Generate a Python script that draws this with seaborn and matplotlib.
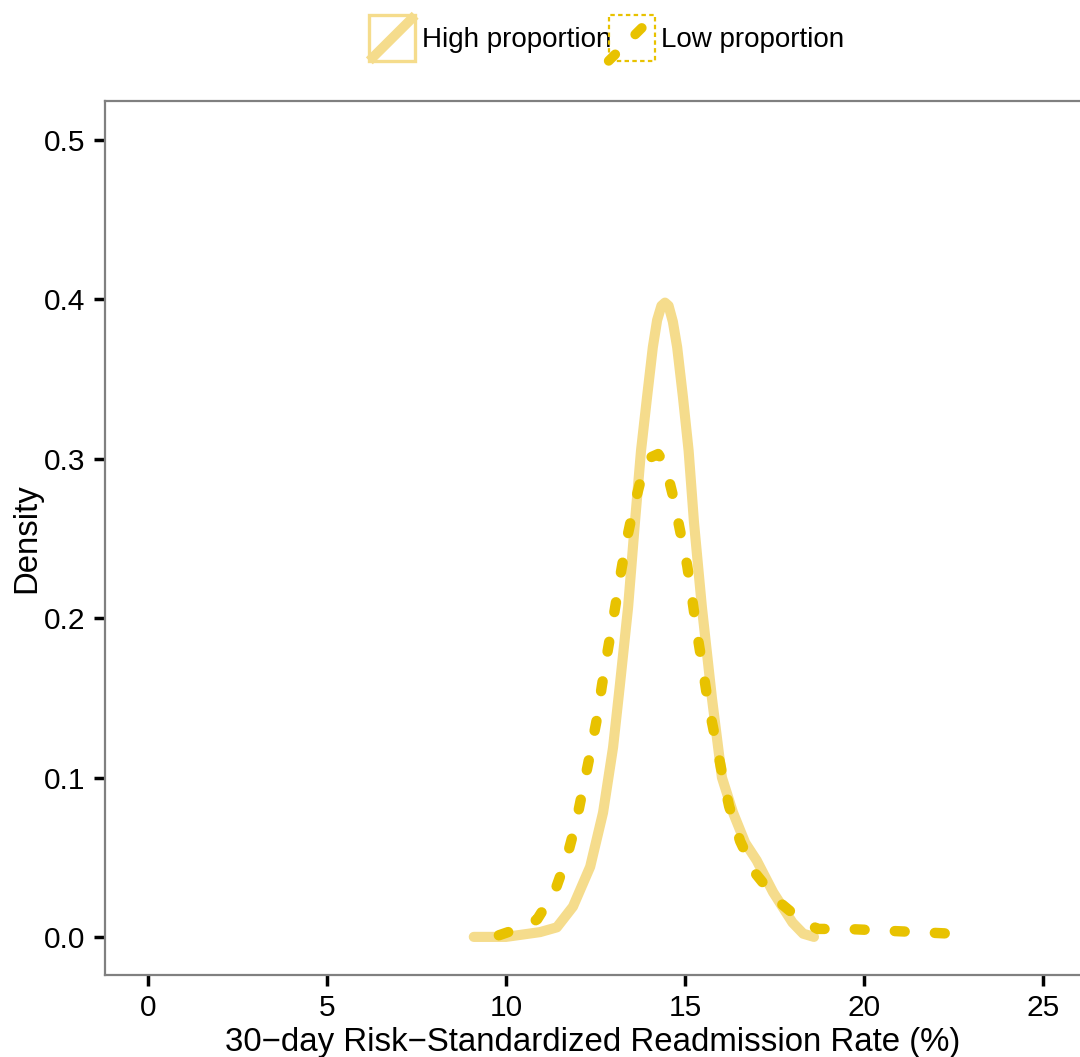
import numpy as np
import pandas as pd
import matplotlib
matplotlib.use('Agg')
import matplotlib.pyplot as plt
import seaborn as sns
from matplotlib.legend_handler import HandlerBase
from matplotlib.patches import Rectangle
from matplotlib.lines import Line2D

# Кривые плотности
high_x = [9.1, 10.0, 10.95, 11.42, 11.87, 12.35, 12.71, 12.99, 13.18, 13.41, 13.6, 13.77,
          13.94, 14.1, 14.22, 14.34, 14.44, 14.54, 14.66, 14.78, 14.94, 15.1, 15.25, 15.47,
          15.75, 16.03, 16.34, 16.68, 17.0, 17.46, 18.0, 18.3, 18.6]
high_y = [0.0, 0.0, 0.003, 0.006, 0.019, 0.044, 0.078, 0.119, 0.158, 0.207, 0.26, 0.305,
          0.339, 0.37, 0.387, 0.396, 0.398, 0.396, 0.386, 0.37, 0.339, 0.305, 0.26, 0.207,
          0.15, 0.10, 0.078, 0.059, 0.048, 0.028, 0.009, 0.002, 0.0]

low_x = [9.8, 10.06, 10.5, 10.87, 11.37, 11.7, 11.96, 12.15, 12.35, 12.54, 12.68, 12.85,
         13.02, 13.18, 13.35, 13.55, 13.8, 14.05, 14.25, 14.45, 14.66, 14.86, 15.06, 15.2,
         15.34, 15.5, 15.64, 15.84, 16.03, 16.23, 16.54, 16.96, 17.57, 18.21, 18.7, 19.5,
         20.5, 21.5, 22.45]
low_y = [0.001, 0.003, 0.006, 0.011, 0.029, 0.05, 0.072, 0.093, 0.115, 0.137, 0.158, 0.181,
         0.203, 0.225, 0.247, 0.268, 0.29, 0.301, 0.303, 0.296, 0.277, 0.255, 0.233, 0.212,
         0.19, 0.168, 0.147, 0.125, 0.103, 0.082, 0.06, 0.04, 0.023, 0.011, 0.005, 0.005,
         0.004, 0.003, 0.002]

groups = ['High proportion', 'Low proportion']
colors = {'High proportion': '#F5DC8C', 'Low proportion': '#E8C200'}

df_high = pd.DataFrame({'rate': high_x, 'density': high_y, 'group': groups[0]})
df_low = pd.DataFrame({'rate': low_x, 'density': low_y, 'group': groups[1]})

sns.set_style('white')
plt.rcParams['font.family'] = ['Liberation Sans', 'DejaVu Sans']
plt.rcParams['text.color'] = 'black'
plt.rcParams['axes.labelcolor'] = 'black'

fig = plt.figure(figsize=(10.8, 10.57), dpi=100)
ax = fig.add_axes([0.0972, 0.0776, 0.9028, 0.8268])

sns.lineplot(data=df_high, x='rate', y='density', color=colors[groups[0]],
             linewidth=7.3, ax=ax, solid_capstyle='round', solid_joinstyle='round', sort=False)
sns.lineplot(data=df_low, x='rate', y='density', color=colors[groups[1]],
             linewidth=7.5, ax=ax, sort=False, dashes=False)
ax.lines[1].set_dashes((0.95, 2.9))
ax.lines[1].set_dash_capstyle('round')

ax.set_xlim(-1.2, 26.03)
ax.set_ylim(-0.0239, 0.5245)
ax.set_xticks([0, 5, 10, 15, 20, 25])
ax.set_yticks([0.0, 0.1, 0.2, 0.3, 0.4, 0.5])
ax.set_yticklabels(['0.0', '0.1', '0.2', '0.3', '0.4', '0.5'])
ax.tick_params(axis='both', which='major', direction='out', length=8, width=2.5,
               color='black', labelsize=21.5, labelcolor='black', pad=6,
               bottom=True, left=True)
for side in ['left', 'bottom', 'top']:
    ax.spines[side].set_color('#808080')
    ax.spines[side].set_linewidth(1.6)
ax.spines['right'].set_visible(False)

ax.set_xlabel('30\u2212day Risk\u2212Standardized Readmission Rate (%)', fontsize=23.8, labelpad=3)
ax.set_ylabel('Density', fontsize=23.7, labelpad=1)


# Ключи легенды: рамка и диагональ, как в ggplot
class DiagKey(HandlerBase):
    def create_artists(self, legend, orig_handle, xdescent, ydescent, width, height, fontsize, trans):
        c = orig_handle.get_color()
        dashed = orig_handle.get_linestyle() != '-'
        rect = Rectangle((-xdescent, -ydescent), width, height, fill=False, edgecolor=c,
                         linewidth=1.6 if dashed else 2.4, linestyle=(0, (2, 1.5)) if dashed else '-')
        line = Line2D([-xdescent, -xdescent + width], [-ydescent, -ydescent + height],
                      color=c, linewidth=orig_handle.get_linewidth(), solid_capstyle='butt',
                      dash_capstyle='round')
        if dashed:
            line.set_dashes((0.95, 2.9))
        rect.set_transform(trans)
        line.set_transform(trans)
        return [rect, line]


handles = [Line2D([], [], color=colors[groups[0]], linewidth=7, linestyle='-'),
           Line2D([], [], color=colors[groups[1]], linewidth=7, linestyle='--')]
fig.legend(handles, groups, loc='center', bbox_to_anchor=(0.562, 0.964), ncol=2,
           frameon=False, fontsize=20, handlelength=1.65, handleheight=2.15,
           handletextpad=0.25, columnspacing=-0.1, borderaxespad=0,
           handler_map={Line2D: DiagKey()})

fig.savefig('out.png', dpi=100)
